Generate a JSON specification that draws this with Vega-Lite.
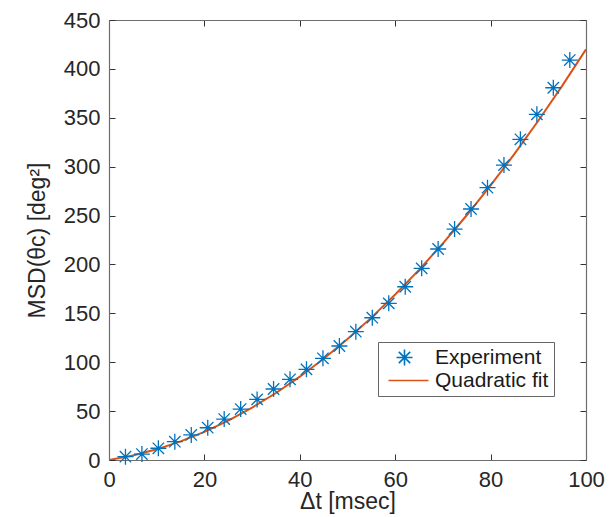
{
  "$schema": "https://vega.github.io/schema/vega-lite/v6.json",
  "width": 477,
  "height": 440,
  "autosize": {"type": "none"},
  "padding": {"left": 109, "top": 20, "right": 24, "bottom": 57},
  "background": "white",
  "config": {
    "view": {"stroke": null},
    "font": "Liberation Sans",
    "axis": {
      "grid": false,
      "domainColor": "#6e6e6e",
      "domainWidth": 1.2,
      "tickColor": "#333333",
      "tickSize": -6,
      "tickWidth": 1,
      "labelFlush": false,
      "labelFont": "Liberation Sans",
      "labelFontSize": 22,
      "labelColor": "#262626",
      "titleFont": "Liberation Sans",
      "titleFontSize": 23,
      "titleFontWeight": "normal",
      "titleColor": "#262626"
    },
    "legend": {
      "orient": "none",
      "legendX": 269,
      "legendY": 322,
      "strokeColor": "#666666",
      "fillColor": "white",
      "padding": 5,
      "symbolOffset": 11,
      "symbolSize": 256,
      "symbolStrokeWidth": 1.6,
      "labelOffset": 20,
      "labelFont": "Liberation Sans",
      "labelFontSize": 21,
      "labelColor": "#1a1a1a",
      "rowPadding": 0
    }
  },
  "datasets": {
    "exp": [
      {"t": 3.45, "msd": 3.4, "series": "Experiment"},
      {"t": 6.9, "msd": 6.1, "series": "Experiment"},
      {"t": 10.35, "msd": 12, "series": "Experiment"},
      {"t": 13.8, "msd": 18.7, "series": "Experiment"},
      {"t": 17.25, "msd": 25.6, "series": "Experiment"},
      {"t": 20.7, "msd": 33, "series": "Experiment"},
      {"t": 24.15, "msd": 41.9, "series": "Experiment"},
      {"t": 27.6, "msd": 52.1, "series": "Experiment"},
      {"t": 31.05, "msd": 62, "series": "Experiment"},
      {"t": 34.5, "msd": 72.6, "series": "Experiment"},
      {"t": 37.95, "msd": 82.5, "series": "Experiment"},
      {"t": 41.4, "msd": 92.7, "series": "Experiment"},
      {"t": 44.85, "msd": 104, "series": "Experiment"},
      {"t": 48.3, "msd": 116.6, "series": "Experiment"},
      {"t": 51.75, "msd": 131.2, "series": "Experiment"},
      {"t": 55.2, "msd": 145.5, "series": "Experiment"},
      {"t": 58.65, "msd": 160.2, "series": "Experiment"},
      {"t": 62.1, "msd": 177.2, "series": "Experiment"},
      {"t": 65.55, "msd": 196, "series": "Experiment"},
      {"t": 69.0, "msd": 215.8, "series": "Experiment"},
      {"t": 72.45, "msd": 236.2, "series": "Experiment"},
      {"t": 75.9, "msd": 256.7, "series": "Experiment"},
      {"t": 79.35, "msd": 278.5, "series": "Experiment"},
      {"t": 82.8, "msd": 301.6, "series": "Experiment"},
      {"t": 86.25, "msd": 328, "series": "Experiment"},
      {"t": 89.7, "msd": 353.5, "series": "Experiment"},
      {"t": 93.15, "msd": 380.7, "series": "Experiment"},
      {"t": 96.6, "msd": 409, "series": "Experiment"}
    ],
    "fit": [
      {"t": 0, "msd": 0, "series": "Quadratic fit"},
      {"t": 5, "msd": 4.6, "series": "Quadratic fit"},
      {"t": 10, "msd": 10.9, "series": "Quadratic fit"},
      {"t": 15, "msd": 19.0, "series": "Quadratic fit"},
      {"t": 20, "msd": 28.8, "series": "Quadratic fit"},
      {"t": 25, "msd": 40.3, "series": "Quadratic fit"},
      {"t": 30, "msd": 53.6, "series": "Quadratic fit"},
      {"t": 35, "msd": 68.5, "series": "Quadratic fit"},
      {"t": 40, "msd": 85.2, "series": "Quadratic fit"},
      {"t": 45, "msd": 103.6, "series": "Quadratic fit"},
      {"t": 50, "msd": 123.8, "series": "Quadratic fit"},
      {"t": 55, "msd": 145.6, "series": "Quadratic fit"},
      {"t": 60, "msd": 169.2, "series": "Quadratic fit"},
      {"t": 65, "msd": 194.5, "series": "Quadratic fit"},
      {"t": 70, "msd": 221.6, "series": "Quadratic fit"},
      {"t": 75, "msd": 250.3, "series": "Quadratic fit"},
      {"t": 80, "msd": 280.8, "series": "Quadratic fit"},
      {"t": 85, "msd": 313.0, "series": "Quadratic fit"},
      {"t": 90, "msd": 347.0, "series": "Quadratic fit"},
      {"t": 95, "msd": 382.6, "series": "Quadratic fit"},
      {"t": 100, "msd": 420.0, "series": "Quadratic fit"}
    ]
  },
  "layer": [
    {
      "data": {"name": "fit"},
      "mark": {"type": "line", "strokeWidth": 2, "clip": true},
      "encoding": {
        "x": {
          "field": "t", "type": "quantitative",
          "scale": {"domain": [0, 100], "nice": false, "zero": false},
          "axis": {"orient": "top", "values": [0, 20, 40, 60, 80, 100], "labels": false, "title": null}
        },
        "y": {
          "field": "msd", "type": "quantitative",
          "scale": {"domain": [0, 450], "nice": false, "zero": false},
          "axis": {"orient": "right", "values": [0, 50, 100, 150, 200, 250, 300, 350, 400, 450], "labels": false, "title": null}
        },
        "color": {
          "field": "series", "type": "nominal",
          "scale": {"domain": ["Experiment", "Quadratic fit"], "range": ["#0072BD", "#D95319"]},
          "legend": {"title": null, "orient": "none", "legendX": 269, "legendY": 322}
        }
      }
    },
    {
      "data": {"name": "exp"},
      "mark": {"type": "point", "filled": false, "strokeWidth": 1.3, "size": 256, "opacity": 1},
      "encoding": {
        "x": {
          "field": "t", "type": "quantitative",
          "axis": {"orient": "bottom", "values": [0, 20, 40, 60, 80, 100], "title": "Δt [msec]", "labelPadding": 15, "titlePadding": 0}
        },
        "y": {
          "field": "msd", "type": "quantitative",
          "axis": {"orient": "left", "values": [0, 50, 100, 150, 200, 250, 300, 350, 400, 450], "title": "MSD(θc) [deg²]", "labelPadding": 15, "titlePadding": 14}
        },
        "color": {
          "field": "series", "type": "nominal",
          "legend": {"title": null, "orient": "none", "legendX": 269, "legendY": 322}
        },
        "shape": {
          "field": "series", "type": "nominal",
          "scale": {
            "domain": ["Experiment", "Quadratic fit"],
            "range": ["M0,-1L0,1M-1,0L1,0M-0.71,-0.71L0.71,0.71M-0.71,0.71L0.71,-0.71", "M-2,0L3,0"]
          },
          "legend": {"title": null, "orient": "none", "legendX": 269, "legendY": 322}
        }
      }
    }
  ],
  "resolve": {"axis": {"x": "independent", "y": "independent"}}
}
